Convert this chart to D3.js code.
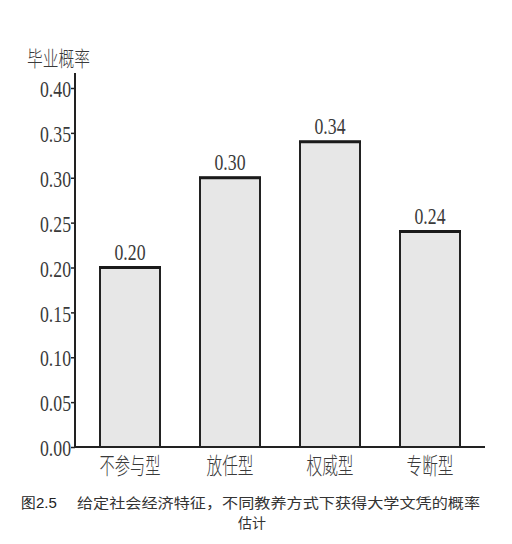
<!DOCTYPE html>
<html><head><meta charset="utf-8">
<script src="https://cdn.jsdelivr.net/npm/d3@7"></script>
<style>body{margin:0;background:#fff}</style>
</head><body>
<svg id="c" width="512" height="544"></svg>
<script>
const categories = ["不参与型","放任型","权威型","专断型"];
const values = [0.20, 0.30, 0.34, 0.24];
const valueLabels = ["0.20","0.30","0.34","0.24"];
const yTicks = [0,0.05,0.10,0.15,0.20,0.25,0.30,0.35,0.40];
const yTickLabels = ["0.00","0.05","0.10","0.15","0.20","0.25","0.30","0.35","0.40"];
const yTitle = "毕业概率";
const captionNum = "图2.5";
const captionLine1 = "给定社会经济特征，不同教养方式下获得大学文凭的概率";
const captionLine2 = "估计";

const svg = d3.select("#c");
const x = d3.scaleBand().domain(categories).range([80,480]).paddingInner(0.4).paddingOuter(0.2);
const y = d3.scaleLinear().domain([0,0.40]).range([447,88]);
const numFont = "'Liberation Serif','DejaVu Serif',serif";
const cjkFont = "'Noto Sans CJK SC','Noto Sans',sans-serif";
const txt = "#3a3a3a";

// y title
svg.append("text").attr("x",27).attr("y",66).attr("font-family",cjkFont).attr("font-size",21)
  .attr("font-weight",300).attr("fill",txt).attr("textLength",63).attr("lengthAdjust","spacingAndGlyphs").text(yTitle);

// bars
const g = svg.append("g");
g.selectAll("rect.bar").data(values).join("rect").attr("class","bar")
  .attr("x",(d,i)=>x(categories[i])).attr("width",x.bandwidth())
  .attr("y",d=>y(d)).attr("height",d=>y(0)-y(d))
  .attr("fill","#e7e7e7").attr("stroke","#222").attr("stroke-width",2);
g.selectAll("line.top").data(values).join("line").attr("class","top")
  .attr("x1",(d,i)=>x(categories[i])-1).attr("x2",(d,i)=>x(categories[i])+x.bandwidth()+1)
  .attr("y1",d=>y(d)).attr("y2",d=>y(d)).attr("stroke","#1a1a1a").attr("stroke-width",3);

// value labels
g.selectAll("text.val").data(values).join("text").attr("class","val")
  .attr("x",(d,i)=>x(categories[i])+x.bandwidth()/2).attr("y",d=>y(d)-8)
  .attr("text-anchor","middle").attr("font-family",numFont).attr("font-size",24).attr("fill",txt)
  .attr("textLength",31).attr("lengthAdjust","spacingAndGlyphs")
  .text((d,i)=>valueLabels[i]);

// y axis
const yAxis = d3.axisLeft(y).tickValues(yTicks).tickFormat((d,i)=>yTickLabels[i]).tickSize(4).tickSizeOuter(0);
const ya = svg.append("g").attr("transform","translate(75,0)").call(yAxis);
ya.select(".domain").remove();
ya.selectAll(".tick line").attr("stroke","#222").attr("stroke-width",1.5);
ya.selectAll(".tick text").attr("font-family",numFont).attr("font-size",24).attr("fill",txt)
  .attr("x",-4).attr("dy","0.36em").attr("textLength",31).attr("lengthAdjust","spacingAndGlyphs");
svg.append("line").attr("x1",75).attr("x2",75).attr("y1",73).attr("y2",y(0)+1)
  .attr("stroke","#222").attr("stroke-width",2);

// x baseline + labels
const xAxis = d3.axisBottom(x).tickSize(0).tickSizeOuter(0);
const xa = svg.append("g").attr("transform",`translate(0,${y(0)})`).call(xAxis);
xa.select(".domain").remove();
svg.append("line").attr("x1",74).attr("x2",485).attr("y1",y(0)).attr("y2",y(0)).attr("stroke","#222").attr("stroke-width",2);
xa.selectAll(".tick text").attr("font-family",cjkFont).attr("font-size",23).attr("font-weight",300).attr("fill",txt)
  .attr("y",10).attr("dy","0.72em").attr("textLength",61).attr("lengthAdjust","spacingAndGlyphs");
xa.selectAll(".tick text").filter(d=>d.length===3).attr("textLength",47);

// caption
svg.append("text").attr("x",21).attr("y",508).attr("font-family","'Liberation Sans',Arial,sans-serif")
  .attr("font-size",15).attr("fill","#222").text(captionNum);
svg.append("text").attr("x",77).attr("y",508).attr("font-family",cjkFont).attr("font-size",14)
  .attr("fill","#333").attr("textLength",403).attr("lengthAdjust","spacingAndGlyphs").text(captionLine1);
svg.append("text").attr("x",252).attr("y",528).attr("text-anchor","middle").attr("font-family",cjkFont)
  .attr("font-size",14).attr("fill","#333").text(captionLine2);
</script>
</body></html>
